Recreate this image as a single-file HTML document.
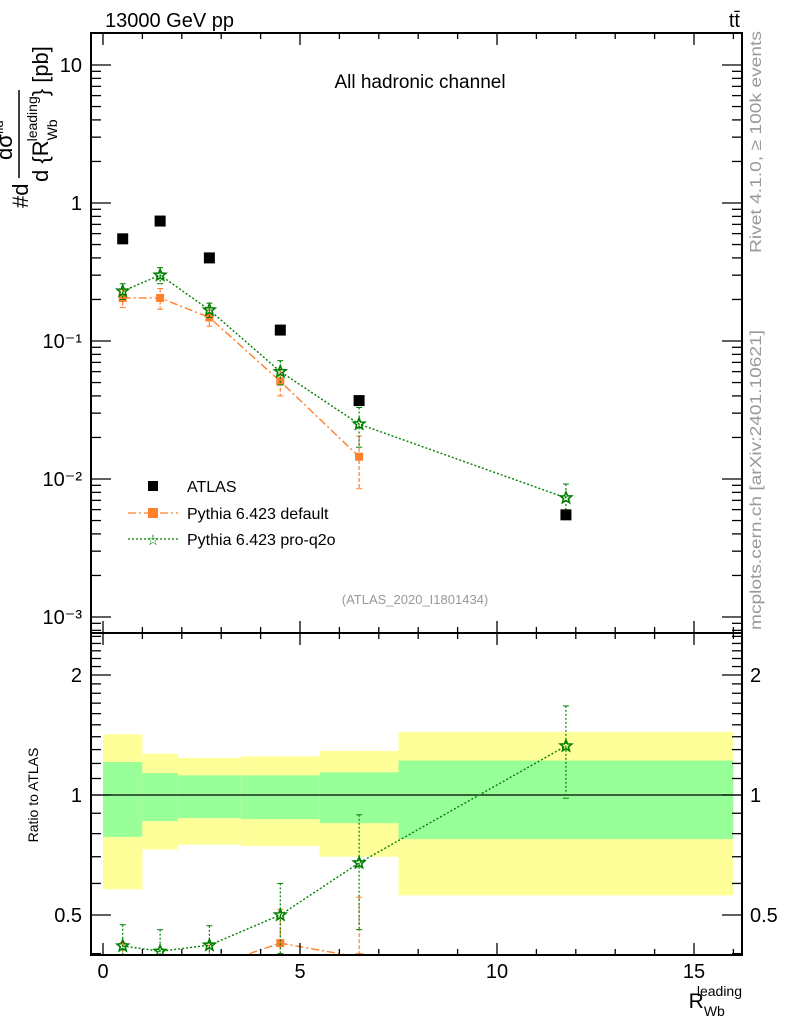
<!DOCTYPE html>
<html><head><meta charset="utf-8"><style>
body{margin:0;background:#fff}
svg{display:block;font-family:"Liberation Sans",sans-serif}
</style></head><body>
<svg id="c" width="786" height="1024" viewBox="0 0 786 1024" xmlns="http://www.w3.org/2000/svg">
<g id="bands"></g><g id="marks"></g><g id="axes"></g>
<text x="105" y="27" font-size="20">13000 GeV pp</text>
<text x="740" y="27" font-size="20" text-anchor="end">tt̄</text>
<text x="420" y="88" font-size="19" text-anchor="middle">All hadronic channel</text>
<text x="415" y="604" font-size="13" fill="#999" text-anchor="middle">(ATLAS_2020_I1801434)</text>
<text transform="translate(761,253) rotate(-90)" font-size="16" fill="#999" textLength="222" lengthAdjust="spacingAndGlyphs">Rivet 4.1.0, ≥ 100k events</text>
<text transform="translate(761,630) rotate(-90)" font-size="16" fill="#999" textLength="300" lengthAdjust="spacingAndGlyphs">mcplots.cern.ch [arXiv:2401.10621]</text>
<g font-size="22">
<text transform="translate(28,208) rotate(-90)">#d</text>
<line x1="19" y1="178" x2="19" y2="90" stroke="#000" stroke-width="1.5"/>
<text transform="translate(12,160) rotate(-90)">dσ<tspan font-size="13" dy="-9">fid</tspan></text>
<text transform="translate(48,182) rotate(-90)">d {R<tspan font-size="14" dy="9">Wb</tspan><tspan font-size="14" dy="-20" dx="-22">leading</tspan><tspan dy="11">} [pb]</tspan></text>
</g>
<text transform="translate(38,795) rotate(-90)" font-size="14" text-anchor="middle">Ratio to ATLAS</text>
<text x="742" y="1008" font-size="21" text-anchor="end">R<tspan font-size="14" dy="8">Wb</tspan><tspan font-size="14" dx="-28" dy="-20">leading</tspan></text>
<g>
<rect x="148" y="481" width="10" height="10" fill="#000"/>
<text x="187" y="492" font-size="16">ATLAS</text>
<line x1="128" y1="513" x2="178" y2="513" stroke="#ff7f2a" stroke-dasharray="8,3,2,3" stroke-width="1.3"/>
<rect x="148" y="508" width="10" height="10" fill="#ff7f2a"/>
<text x="187" y="519" font-size="16">Pythia 6.423 default</text>
<line x1="128" y1="539" x2="178" y2="539" stroke="#008000" stroke-dasharray="2,2" stroke-width="1.3"/>
<text x="153" y="545" font-size="15" fill="#008000" text-anchor="middle">☆</text>
<text x="187" y="545" font-size="16">Pythia 6.423 pro-q2o</text>
</g>
</svg>
<script>
const xs=[0.5,1.45,2.7,4.5,6.5,11.75];
const atlas=[0.55,0.74,0.40,0.12,0.037,0.0055];
const pyDef=[0.205,0.205,0.148,0.051,0.0145];
const pyDefErr=[0.03,0.035,0.02,0.011,0.006];
const pyQ2o=[0.23,0.30,0.168,0.060,0.025,0.0073];
const pyQ2oErr=[0.03,0.04,0.02,0.012,0.008,0.0019];
const binEdges=[0,1,1.9,3.5,5.5,7.5,16];
const yelHi=[1.42,1.27,1.24,1.25,1.29,1.44];
const yelLo=[0.58,0.73,0.75,0.745,0.70,0.56];
const grnHi=[1.21,1.135,1.12,1.12,1.14,1.22];
const grnLo=[0.785,0.86,0.875,0.87,0.85,0.775];
const xTicks=[0,5,10,15];
const yTicks=[10,1,0.1,0.01,0.001];
const yTickLabels=["10","1","10⁻¹","10⁻²","10⁻³"];
const rTicks=[0.5,1,2];

const NS="http://www.w3.org/2000/svg";
const L=91,R=742,T=33,MB=633,RB=955;
const X=v=>103+v*39.4;
const Y=v=>203-138*Math.log10(v);
const RY=v=>795-120*Math.log2(v);
function el(p,t,a){const e=document.createElementNS(NS,t);for(const k in a)e.setAttribute(k,a[k]);document.getElementById(p).appendChild(e);return e;}
for(let i=0;i<yelHi.length;i++){
 const x1=X(binEdges[i]),x2=X(binEdges[i+1]);
 let e=el('bands','rect',{x:x1,y:RY(yelHi[i]),width:x2-x1,height:RY(yelLo[i])-RY(yelHi[i]),fill:'#ffff99'});
 
 
 e=el('bands','rect',{x:x1,y:RY(grnHi[i]),width:x2-x1,height:RY(grnLo[i])-RY(grnHi[i]),fill:'#99ff99'});
 
 
}
let ln=el('bands','line',{x1:L,x2:R,y1:RY(1),y2:RY(1),stroke:'#000','stroke-width':1.2});


const defs=el('marks','defs',{});
const c1=document.createElementNS(NS,'clipPath');c1.id='cm';defs.appendChild(c1);
let r1=document.createElementNS(NS,'rect');r1.setAttribute('x',L);r1.setAttribute('y',T);r1.setAttribute('width',R-L);r1.setAttribute('height',MB-T);c1.appendChild(r1);
const c2=document.createElementNS(NS,'clipPath');c2.id='cr';defs.appendChild(c2);
let r2=document.createElementNS(NS,'rect');r2.setAttribute('x',L);r2.setAttribute('y',MB);r2.setAttribute('width',R-L);r2.setAttribute('height',RB-MB);c2.appendChild(r2);
const gm=el('marks','g',{'clip-path':'url(#cm)'});gm.id='gm';
const gr=el('marks','g',{'clip-path':'url(#cr)'});gr.id='gr';
function star(g,cx,cy,name){
 let p='';for(let k=0;k<10;k++){const a=-Math.PI/2+k*Math.PI/5,r=k%2?2.6:6;p+=(cx+r*Math.cos(a)).toFixed(1)+','+(cy+r*Math.sin(a)).toFixed(1)+' ';}
 const e=el(g,'polygon',{points:p,fill:'none',stroke:'#008000','stroke-width':1.6});
 
 
}
function series(g,vals,errs,yf,col,dash,isStar,name){
 let pts=vals.map((v,i)=>X(xs[i])+','+yf(v)).join(' ');
 const pl=el(g,'polyline',{points:pts,fill:'none',stroke:col,'stroke-dasharray':dash,'stroke-width':1.4});
 
 
 vals.forEach((v,i)=>{
  const cx=X(xs[i]);
  const lo=errs.lo[i],hi=errs.hi[i];
  const eb=el(g,'line',{x1:cx,x2:cx,y1:yf(hi),y2:yf(lo),stroke:col,'stroke-dasharray':isStar?'2,2':'4,2','stroke-width':1.2});
  
  
  el(g,'line',{x1:cx-3,x2:cx+3,y1:yf(hi),y2:yf(hi),stroke:col});
  el(g,'line',{x1:cx-3,x2:cx+3,y1:yf(lo),y2:yf(lo),stroke:col});
  if(isStar)star(g,cx,yf(v),name+'-point');
  else{const m=el(g,'rect',{x:cx-4,y:yf(v)-4,width:8,height:8,fill:col});
   
   }
 });
}
series('gm',pyDef,{lo:pyDef.map((v,i)=>Math.max(v-pyDefErr[i],1e-5)),hi:pyDef.map((v,i)=>v+pyDefErr[i])},Y,'#ff7f2a','8,3,2,3',false,'pythia-default');
series('gm',pyQ2o,{lo:pyQ2o.map((v,i)=>Math.max(v-pyQ2oErr[i],1e-5)),hi:pyQ2o.map((v,i)=>v+pyQ2oErr[i])},Y,'#008000','2,2',true,'pythia-proq2o');
atlas.forEach((v,i)=>{const m=el('gm','rect',{x:X(xs[i])-5.5,y:Y(v)-5.5,width:11,height:11,fill:'#000'});
 
 });
const rDef=pyDef.map((v,i)=>v/atlas[i]);
const rQ=pyQ2o.map((v,i)=>v/atlas[i]);
series('gr',rDef,{lo:pyDef.map((v,i)=>Math.max(v-pyDefErr[i],1e-5)/atlas[i]),hi:pyDef.map((v,i)=>(v+pyDefErr[i])/atlas[i])},RY,'#ff7f2a','8,3,2,3',false,'ratio-default');
series('gr',rQ,{lo:pyQ2o.map((v,i)=>Math.max(v-pyQ2oErr[i],1e-5)/atlas[i]),hi:pyQ2o.map((v,i)=>(v+pyQ2oErr[i])/atlas[i])},RY,'#008000','2,2',true,'ratio-proq2o');
[[T,MB],[MB,RB]].forEach(([t,b],k)=>{const f=el('axes','rect',{x:L,y:t,width:R-L,height:b-t,fill:'none',stroke:'#000','stroke-width':2});
 
 });
for(let v=0;v<=16;v++){
 const len=v%5===0?12:6,x=X(v);
 [T,MB].forEach(y=>{el('axes','line',{x1:x,x2:x,y1:y,y2:y+len,stroke:'#000','stroke-width':1.3});});
 [MB,RB].forEach(y=>{el('axes','line',{x1:x,x2:x,y1:y,y2:y-len,stroke:'#000','stroke-width':1.3});});
}
xTicks.forEach(v=>{const t=el('axes','text',{x:X(v),y:978,'font-size':20,'text-anchor':'middle'});t.textContent=v;
 
 });
for(let d=-4;d<=1;d++)for(let m=1;m<10;m++){
 const v=m*Math.pow(10,d),y=Y(v);if(y<T||y>MB)continue;
 const len=m===1?20:10;
 el('axes','line',{x1:L,x2:L+len,y1:y,y2:y,stroke:'#000','stroke-width':1.3});
 el('axes','line',{x1:R,x2:R-len,y1:y,y2:y,stroke:'#000','stroke-width':1.3});
}
yTicks.forEach((v,i)=>{const t=el('axes','text',{x:82,y:Y(v)+7,'font-size':20,'text-anchor':'end'});t.textContent=yTickLabels[i];
 
 });
for(let v=0.4;v<=2.6;v+=0.1){
 const y=RY(v);if(y<MB||y>RB)continue;
 const major=Math.abs(v-0.5)<1e-6||Math.abs(v-1)<1e-6||Math.abs(v-2)<1e-6;
 const len=major?20:10;
 el('axes','line',{x1:L,x2:L+len,y1:y,y2:y,stroke:'#000','stroke-width':1.3});
 el('axes','line',{x1:R,x2:R-len,y1:y,y2:y,stroke:'#000','stroke-width':1.3});
}
rTicks.forEach(v=>{const lab=String(v);
 let t=el('axes','text',{x:82,y:RY(v)+7,'font-size':20,'text-anchor':'end'});t.textContent=lab;
 
 
 t=el('axes','text',{x:750,y:RY(v)+7,'font-size':20});t.textContent=lab;
 
 });
</script>
</body></html>
